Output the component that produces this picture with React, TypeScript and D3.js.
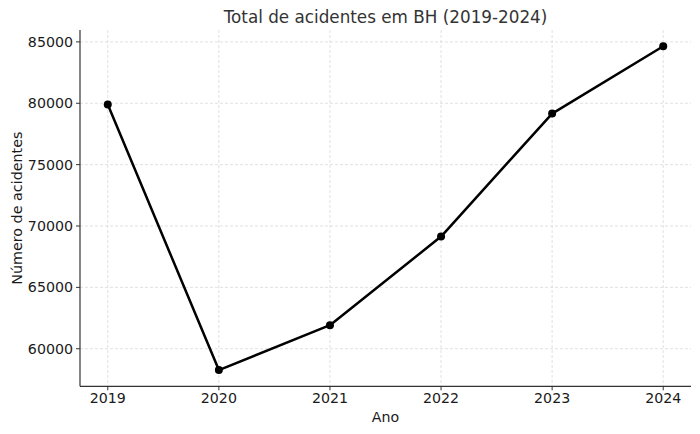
import React from "react";
import * as d3 from "d3";

const years = [2019, 2020, 2021, 2022, 2023, 2024];
const totals = [79900, 58260, 61920, 69140, 79160, 84650];
const yTicks = [60000, 65000, 70000, 75000, 80000, 85000];

const W = 700, H = 434;
const left = 80, right = 691, top = 30, bottom = 386.3;

export default function App() {
  const xPad = (2024 - 2019) * 0.05;
  const x = d3.scaleLinear().domain([2019 - xPad, 2024 + xPad]).range([left, right]);
  const minV = d3.min(totals)!, maxV = d3.max(totals)!;
  const yPad = (maxV - minV) * 0.05;
  const y = d3.scaleLinear().domain([minV - yPad, maxV + yPad]).range([bottom, top]);
  const line = d3.line<number>().x((_, i) => x(years[i])).y((d) => y(d));
  const font = "DejaVu Sans, sans-serif";
  return (
    <svg width={W} height={H} style={{ position: "absolute", left: 0, top: 0, background: "#fff" }}>
      <g>
        {years.map((yr) => (
          <line key={"gx" + yr} x1={x(yr)} x2={x(yr)} y1={top} y2={bottom} stroke="#d9d9d9" strokeWidth={0.8} strokeDasharray="3,2" />
        ))}
        {yTicks.map((t) => (
          <line key={"gy" + t} x1={left} x2={right} y1={y(t)} y2={y(t)} stroke="#d9d9d9" strokeWidth={0.8} strokeDasharray="3,2" />
        ))}
      </g>
      <line x1={left} x2={left} y1={top} y2={bottom} stroke="#333" strokeWidth={1.2} />
      <line x1={left} x2={right} y1={bottom} y2={bottom} stroke="#333" strokeWidth={1.2} />
      {years.map((yr) => (
        <g key={"tx" + yr}>
          <line x1={x(yr)} x2={x(yr)} y1={bottom} y2={bottom + 4} stroke="#333" />
          <text x={x(yr)} y={bottom + 16.5} textAnchor="middle" fontSize={14.2} fontFamily={font} fill="#1a1a1a">{yr}</text>
        </g>
      ))}
      {yTicks.map((t) => (
        <g key={"ty" + t}>
          <line x1={left - 4} x2={left} y1={y(t)} y2={y(t)} stroke="#333" />
          <text x={left - 7} y={y(t)} dy="0.36em" textAnchor="end" fontSize={14.2} fontFamily={font} fill="#1a1a1a">{t}</text>
        </g>
      ))}
      <path d={line(totals)!} fill="none" stroke="#000" strokeWidth={2.5} strokeLinejoin="round" />
      {totals.map((v, i) => (
        <circle key={"p" + i} cx={x(years[i])} cy={y(v)} r={4} fill="#000" />
      ))}
      <text x={(left + right) / 2} y={23} textAnchor="middle" fontSize={16.8} fontFamily={font} fill="#333">Total de acidentes em BH (2019-2024)</text>
      <text x={(left + right) / 2} y={421.5} textAnchor="middle" fontSize={14.2} fontFamily={font} fill="#1a1a1a">Ano</text>
      <text transform={`translate(21.5,${(top + bottom) / 2}) rotate(-90)`} textAnchor="middle" fontSize={14.3} fontFamily={font} fill="#1a1a1a">Número de acidentes</text>
    </svg>
  );
}
